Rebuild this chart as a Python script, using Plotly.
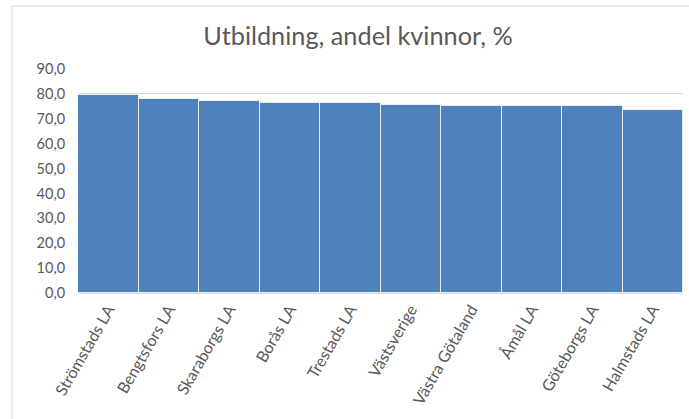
import plotly.graph_objects as go

categories = ["Strömstads LA", "Bengtsfors LA", "Skaraborgs LA", "Borås LA", "Trestads LA",
              "Västsverige", "Västra Götaland", "Åmål LA", "Göteborgs LA", "Halmstads LA"]
values = [79.5, 77.9, 77.2, 76.5, 76.5, 75.4, 75.0, 75.0, 75.0, 73.5]
y_ticks = [0, 10, 20, 30, 40, 50, 60, 70, 80, 90]

L, R, T, B = 78, 6, 69, 125.5
W, H = 689, 419
pw = W - L - R
ph = H - T - B

fig = go.Figure(go.Bar(
    x=categories, y=values,
    marker=dict(color="#4F81BD", line=dict(color="rgba(255,255,255,0.75)", width=1)),
))

fig.update_layout(
    width=W, height=H,
    margin=dict(l=L, r=R, t=T, b=B, autoexpand=False),
    paper_bgcolor="white", plot_bgcolor="white",
    bargap=0,
    separators=",.",
    showlegend=False,
    font=dict(family="Lato, Open Sans, sans-serif", color="#595959"),
    title=dict(text="Utbildning, andel kvinnor, %", x=358 / W, xref="container", xanchor="center",
               y=1 - 36 / H, yref="container", yanchor="middle",
               font=dict(size=25.3, color="#595959", family="Lato, Open Sans, sans-serif")),
    shapes=[dict(type="rect", xref="paper", yref="paper",
                 x0=(12 - L) / pw, x1=(W + 5 - L) / pw,
                 y0=(H - B - (H + 5)) / ph, y1=(H - B - 6) / ph,
                 line=dict(color="#D9D9D9", width=1), layer="below")],
)

fig.update_yaxes(range=[0, 90], tickvals=y_ticks, tickformat=".1f", automargin=False,
                 showgrid=True, gridcolor="#D9D9D9", gridwidth=1,
                 zeroline=False, showline=False,
                 ticks="outside", ticklen=9, tickcolor="rgba(0,0,0,0)",
                 tickfont=dict(size=14.5, color="#595959"))
fig.update_xaxes(tickangle=-60, showline=True, linecolor="#D9D9D9", linewidth=1, automargin=False,
                 ticks="", tickfont=dict(size=16, color="#595959"))

fig.write_html("out.html", config={"displayModeBar": False},
               post_script="document.body.style.margin='0px';document.body.style.overflow='hidden';")
